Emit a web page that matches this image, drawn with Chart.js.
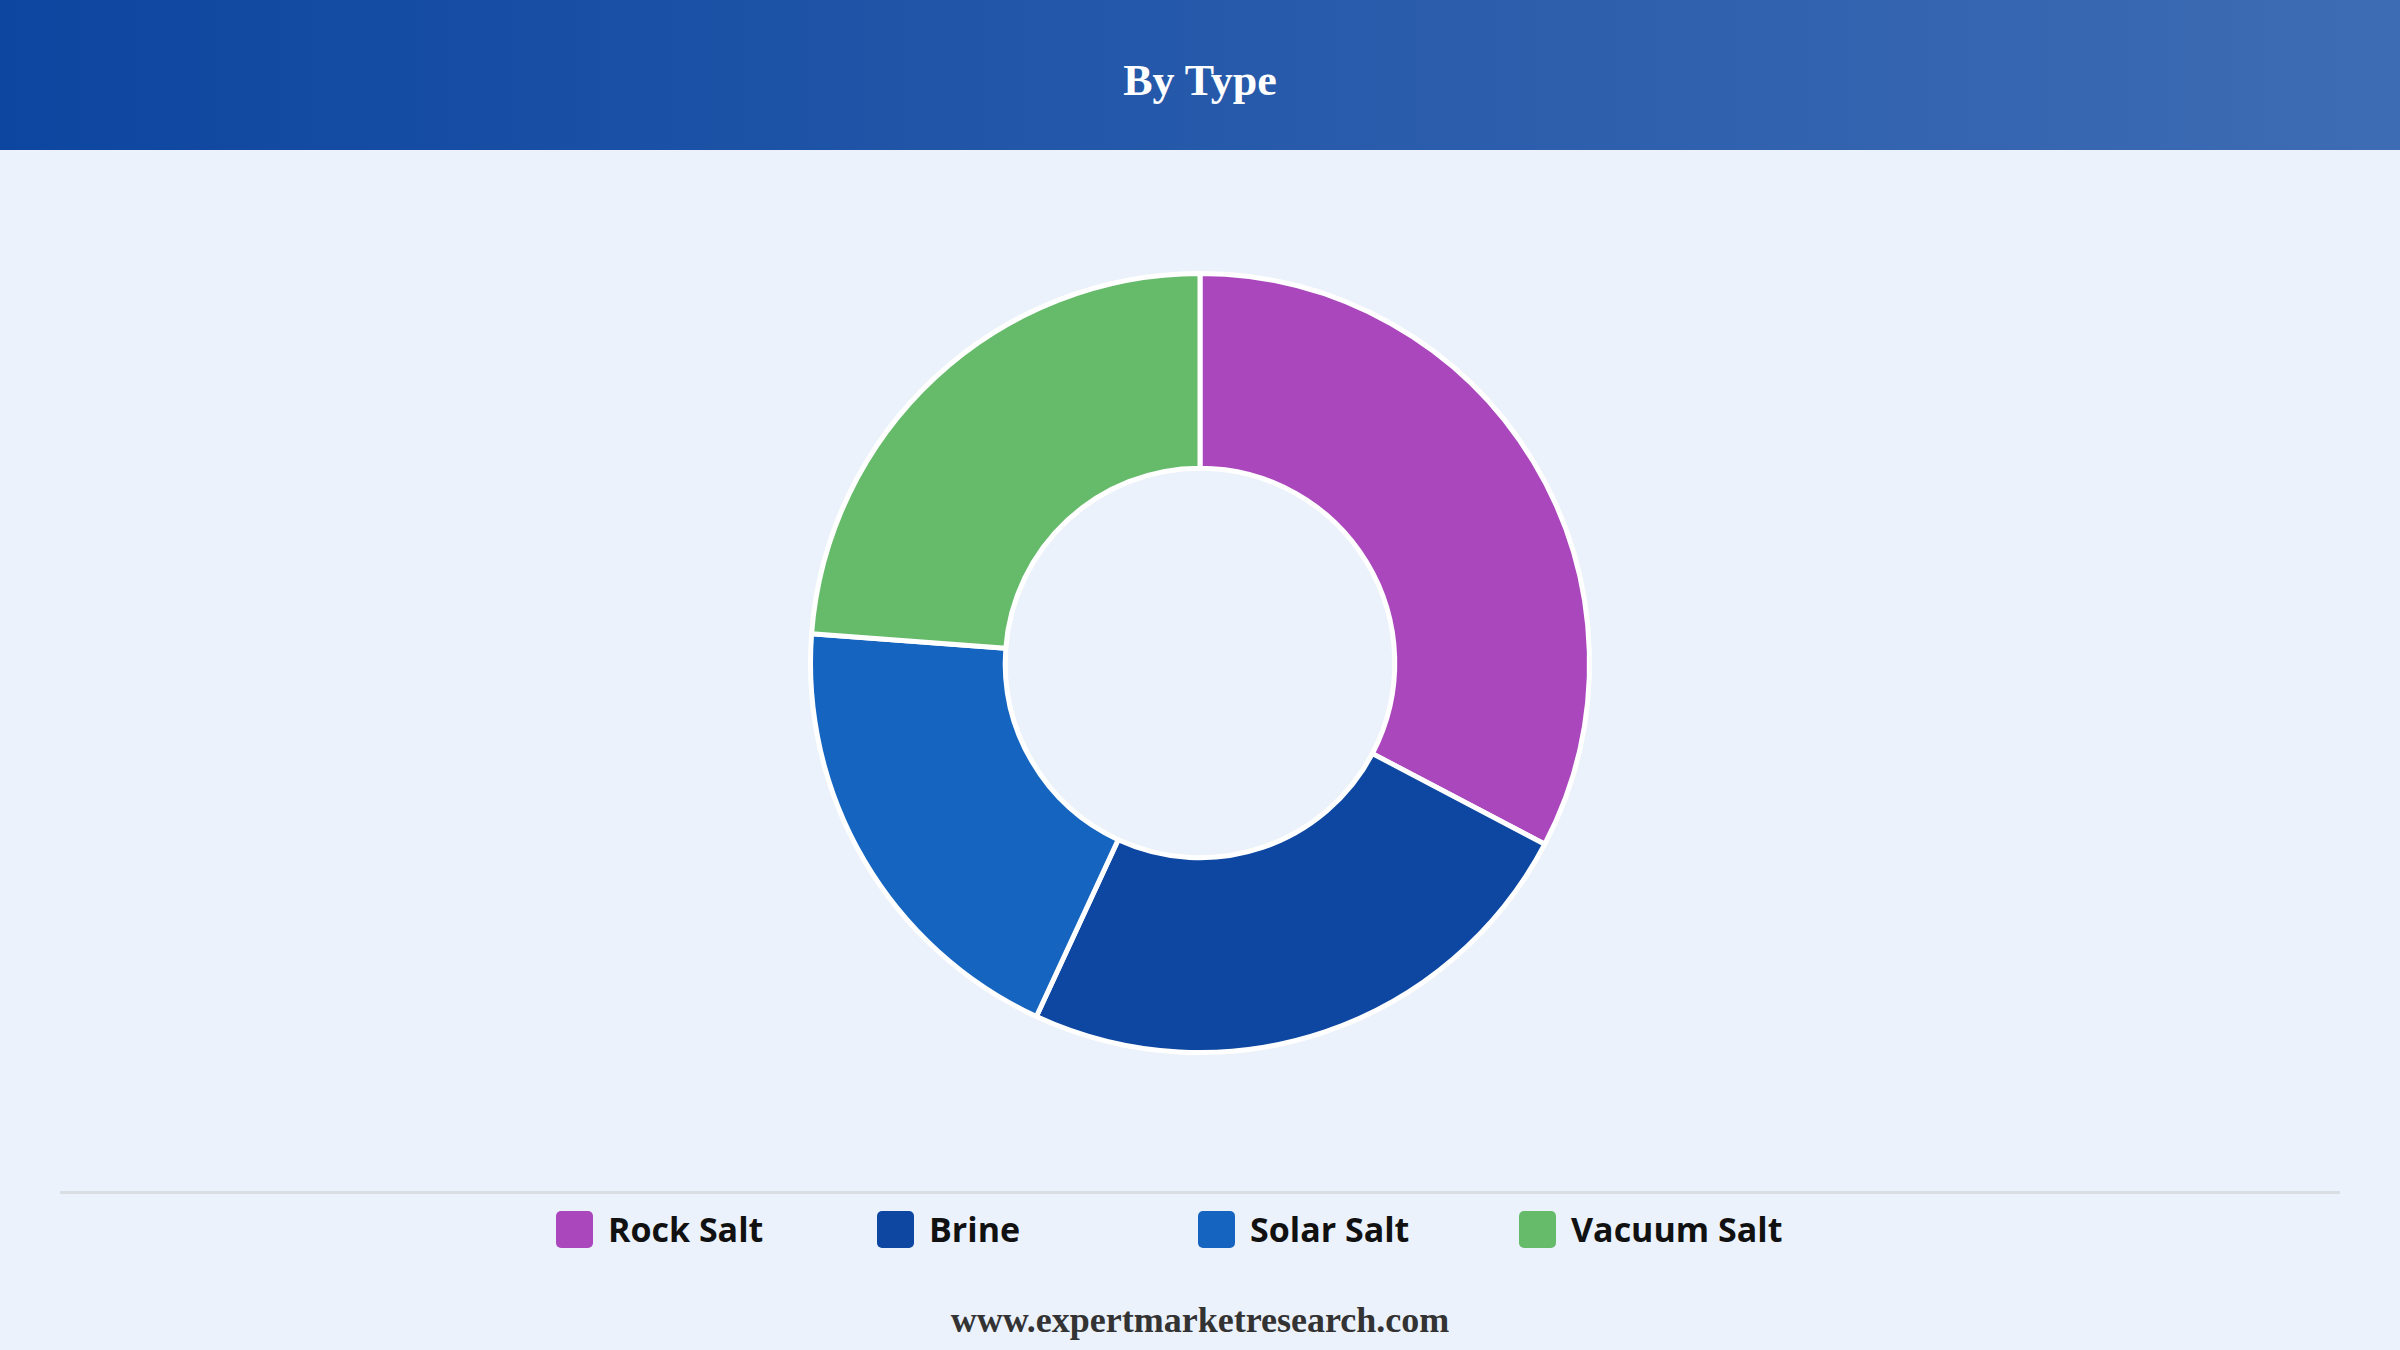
<!DOCTYPE html>
<html>
<head>
<meta charset="utf-8">
<script src="https://cdn.jsdelivr.net/npm/chart.js@4.4.1/dist/chart.umd.min.js"></script>
<style>
    html, body {
        margin: 0;
        padding: 0;
        width: 2400px;
        height: 1350px;
        background: #ebf2fb;
        overflow: hidden;
    }
    .header {
        position: absolute;
        left: 0; top: 0;
        width: 2400px; height: 150px;
        background: linear-gradient(to right, #0d46a0, #3e6cb4);
    }
    .header h1 {
        margin: 0;
        line-height: 162px;
        text-align: center;
        color: #fff;
        font-family: "Liberation Serif", "Times New Roman", serif;
        font-weight: bold;
        font-size: 44px;
    }
    .chart-box {
        position: absolute;
        left: 0; top: 271px;
        width: 2400px; height: 784px;
    }
    .divider {
        position: absolute;
        left: 60px; top: 1191px;
        width: 2280px; height: 3px;
        background: #dadde2;
    }
    .legend {
        position: absolute;
        left: 556px; top: 1207px;
        display: flex;
        font-family: "Open Sans", sans-serif;
        font-weight: bold;
        font-size: 34px;
        color: #111;
    }
    .legend-item {
        width: 321px;
        display: flex;
        align-items: center;
        height: 44px;
    }
    .legend-item span.box {
        width: 37px; height: 37px;
        border-radius: 5px;
        margin-right: 15px;
        display: inline-block;
    }
    .footer {
        position: absolute;
        left: 0; top: 1299px;
        width: 2400px;
        text-align: center;
        font-family: "Liberation Serif", "Times New Roman", serif;
        font-weight: bold;
        font-size: 36px;
        color: #333;
    }
</style>
</head>
<body>
<div class="header"><h1 id="title"></h1></div>
<div class="chart-box"><canvas id="typeChart"></canvas></div>
<div class="divider"></div>
<div class="legend" id="legend"></div>
<div class="footer">www.expertmarketresearch.com</div>

<script>
    const chartTitle = 'By Type';
    const categories = ['Rock Salt', 'Brine', 'Solar Salt', 'Vacuum Salt'];
    const shares = [32.7, 24.2, 19.3, 23.8];
    const sliceColors = ['#ab47bc', '#0d47a1', '#1565c0', '#66bb6a'];

    document.getElementById('title').textContent = chartTitle;

    // legend is plain html, fixed-width columns like the original
    const legendEl = document.getElementById('legend');
    categories.forEach(function (name, i) {
        const item = document.createElement('div');
        item.className = 'legend-item';
        const box = document.createElement('span');
        box.className = 'box';
        box.style.background = sliceColors[i];
        item.appendChild(box);
        item.appendChild(document.createTextNode(name));
        legendEl.appendChild(item);
    });

    new Chart(document.getElementById('typeChart').getContext('2d'), {
        type: 'doughnut',
        data: {
            labels: categories,
            datasets: [{
                data: shares,
                backgroundColor: sliceColors,
                borderColor: '#ffffff',
                borderWidth: 5
            }]
        },
        options: {
            responsive: true,
            maintainAspectRatio: false,
            animation: false,
            cutout: '50%',
            layout: { padding: 0 },
            plugins: {
                legend: { display: false },
                tooltip: { enabled: false }
            }
        }
    });
</script>
</body>
</html>
